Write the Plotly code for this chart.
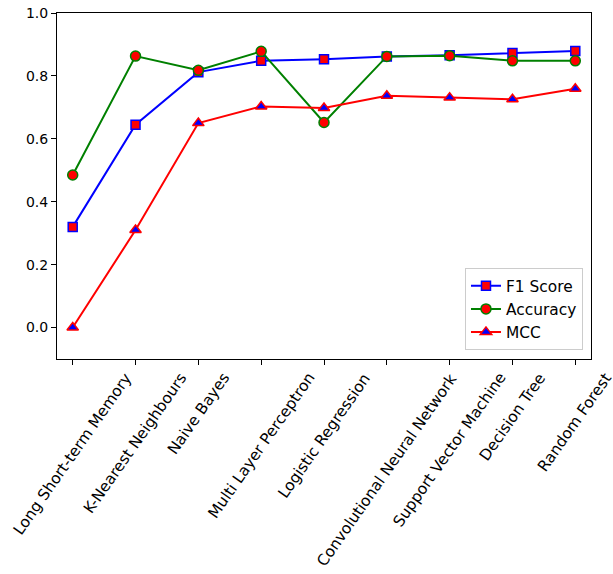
import plotly.graph_objects as go

models = ["Long Short-term Memory", "K-Nearest Neighbours", "Naive Bayes",
          "Multi Layer Perceptron", "Logistic Regression", "Convolutional Neural Network",
          "Support Vector Machine", "Decision Tree", "Random Forest"]
f1_score = [0.320, 0.645, 0.812, 0.848, 0.853, 0.862, 0.866, 0.873, 0.879]
accuracy = [0.485, 0.863, 0.818, 0.878, 0.652, 0.862, 0.864, 0.848, 0.848]
mcc = [0.000, 0.310, 0.650, 0.703, 0.698, 0.737, 0.731, 0.726, 0.759]
y_ticks = [0.0, 0.2, 0.4, 0.6, 0.8, 1.0]

FONT = "DejaVu Sans"
x_idx = list(range(len(models)))

fig = go.Figure()
fig.add_trace(go.Scatter(
    x=x_idx, y=f1_score, mode="lines+markers", name="F1 Score",
    line=dict(color="blue", width=2),
    marker=dict(symbol="square", size=9, color="red", line=dict(color="blue", width=1.5)),
))
fig.add_trace(go.Scatter(
    x=x_idx, y=accuracy, mode="lines+markers", name="Accuracy",
    line=dict(color="green", width=2),
    marker=dict(symbol="circle", size=10, color="red", line=dict(color="green", width=1.5)),
))
fig.add_trace(go.Scatter(
    x=x_idx, y=mcc, mode="lines+markers", name="MCC",
    line=dict(color="red", width=2),
    marker=dict(symbol="triangle-up", size=10, color="blue", line=dict(color="red", width=1.5)),
))

for i, name in enumerate(models):
    fig.add_annotation(
        x=i, y=0, xref="x", yref="paper", text=name, showarrow=False,
        textangle=-55, xanchor="center", yanchor="top", yshift=-8,
        font=dict(family=FONT, size=15.4, color="black"),
    )

fig.update_layout(
    template="none",
    width=613, height=574,
    margin=dict(l=57, r=22, t=13, b=215, autoexpand=False),
    plot_bgcolor="white", paper_bgcolor="white",
    font=dict(family=FONT, size=14, color="black"),
    showlegend=True,
    legend=dict(
        x=0.985, y=0.025, xanchor="right", yanchor="bottom",
        bgcolor="rgba(255,255,255,0.8)", bordercolor="#cccccc", borderwidth=1,
        font=dict(family=FONT, size=15.4), tracegroupgap=0, itemsizing="trace",
    ),
    xaxis=dict(
        range=[-0.25, 8.25], tickmode="array", tickvals=x_idx, showticklabels=False,
        ticks="outside", ticklen=5, tickwidth=1, tickcolor="black",
        showline=True, linecolor="black", linewidth=1, mirror=True,
        showgrid=False, zeroline=False, automargin=False,
    ),
    yaxis=dict(
        range=[-0.1, 1.0], tickmode="array", tickvals=y_ticks,
        ticktext=[f"{v:.1f}" for v in y_ticks],
        ticks="outside", ticklen=5, tickwidth=1, tickcolor="black",
        showline=True, linecolor="black", linewidth=1, mirror=True,
        showgrid=False, zeroline=False, automargin=False,
        tickfont=dict(family=FONT, size=14),
    ),
)

fig.write_html("out.html", config={"displayModeBar": False},
               post_script="document.body.style.margin='0';document.body.style.overflow='hidden';")
